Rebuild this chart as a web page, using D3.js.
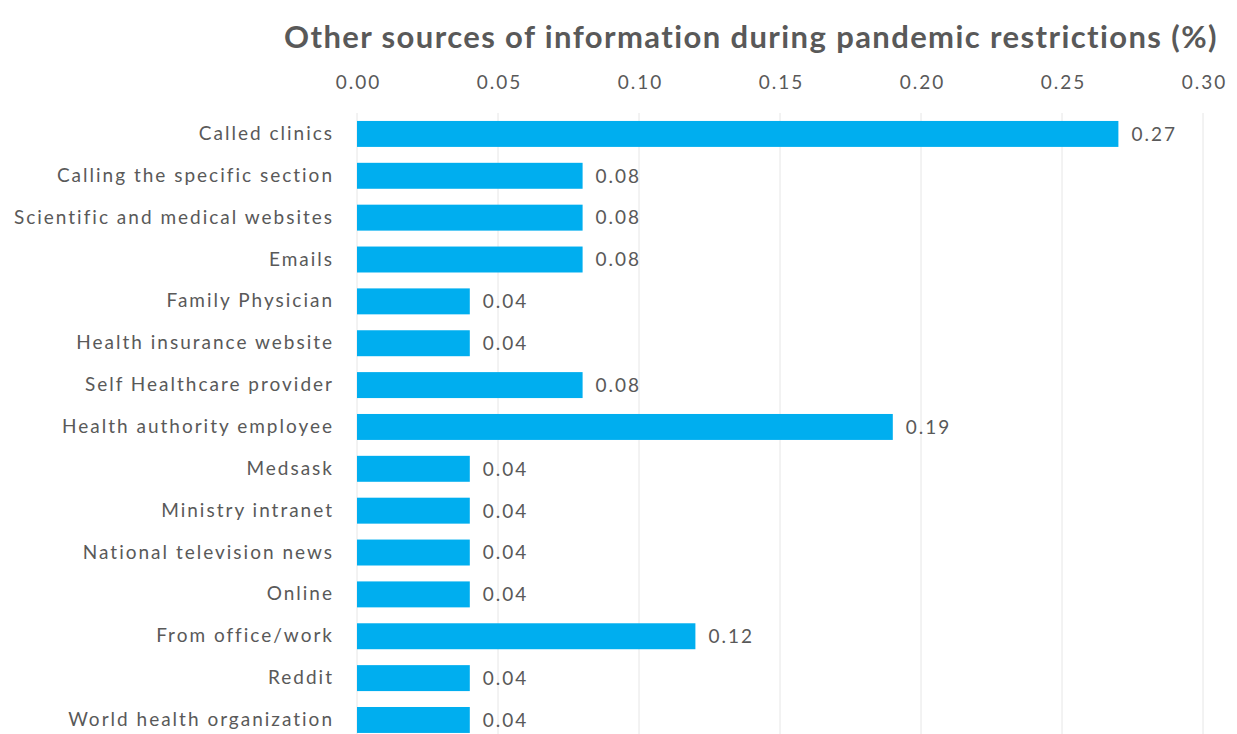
<!DOCTYPE html>
<html>
<head>
<meta charset="utf-8">
<script src="https://cdn.jsdelivr.net/npm/d3@7"></script>
<style>
  html, body { margin: 0; padding: 0; background: #fff; }
  svg { display: block; }
  text { font-family: Lato, "Open Sans", sans-serif; fill: #595959; }
</style>
</head>
<body>
<svg id="chart" width="1237" height="734"></svg>
<script>
// Sources named by respondents, top to bottom
const categories = [
  "Called clinics",
  "Calling the specific section",
  "Scientific and medical websites",
  "Emails",
  "Family Physician",
  "Health insurance website",
  "Self Healthcare provider",
  "Health authority employee",
  "Medsask",
  "Ministry intranet",
  "National television news",
  "Online",
  "From office/work",
  "Reddit",
  "World health organization"
];
// Share of respondents per source
const values = [0.27, 0.08, 0.08, 0.08, 0.04, 0.04, 0.08, 0.19, 0.04, 0.04, 0.04, 0.04, 0.12, 0.04, 0.04];
const xTicks = [0.00, 0.05, 0.10, 0.15, 0.20, 0.25, 0.30];
const titleText = "Other sources of information during pandemic restrictions (%)";

const svg = d3.select("#chart");
const margin = { left: 357, right: 34, top: 113 };
const plotW = 1237 - margin.left - margin.right;
const step = 41.86;
const plotH = step * categories.length;

const x = d3.scaleLinear().domain([0, 0.30]).range([0, plotW]);
const y = d3.scaleBand().domain(categories).range([0, plotH]).paddingInner(0.38).paddingOuter(0.19);

const g = svg.append("g").attr("transform", `translate(${margin.left},${margin.top})`);

// Title
svg.append("text")
  .attr("x", 751).attr("y", 48)
  .attr("text-anchor", "middle")
  .style("font-size", "31px").style("font-weight", "bold")
  .style("letter-spacing", "1.4px")
  .text(titleText);

// Vertical gridlines
g.append("g").selectAll("line").data(xTicks).join("line")
  .attr("x1", d => x(d)).attr("x2", d => x(d))
  .attr("y1", 0).attr("y2", plotH)
  .attr("stroke", "#e6e6e6").attr("stroke-width", 1);

// Top axis labels
const xAxis = d3.axisTop(x).tickValues(xTicks).tickFormat(d3.format(".2f")).tickSize(0).tickPadding(0);
const ax = g.append("g").attr("transform", "translate(1,-24)").call(xAxis);
ax.select(".domain").remove();
ax.selectAll("text").style("font-size", "19px").style("letter-spacing", "2px")
  .style("font-family", "Lato, sans-serif").attr("fill", "#595959");

// Category axis
const yAxis = d3.axisLeft(y).tickSize(0).tickPadding(23);
const ay = g.append("g").call(yAxis);
ay.select(".domain").remove();
ay.selectAll("text").style("font-size", "19px").style("letter-spacing", "2px")
  .style("font-family", "Lato, sans-serif").attr("fill", "#595959");

// Bars
g.append("g").selectAll("rect").data(values).join("rect")
  .attr("x", 0)
  .attr("y", (d, i) => y(categories[i]))
  .attr("width", d => x(d))
  .attr("height", y.bandwidth())
  .attr("fill", "#00aeef");

// Value labels
g.append("g").selectAll("text").data(values).join("text")
  .attr("x", d => x(d) + 13)
  .attr("y", (d, i) => y(categories[i]) + y.bandwidth() / 2)
  .attr("dy", "0.36em")
  .style("font-size", "19px").style("letter-spacing", "2px")
  .text(d => d3.format(".2f")(d));
</script>
</body>
</html>
